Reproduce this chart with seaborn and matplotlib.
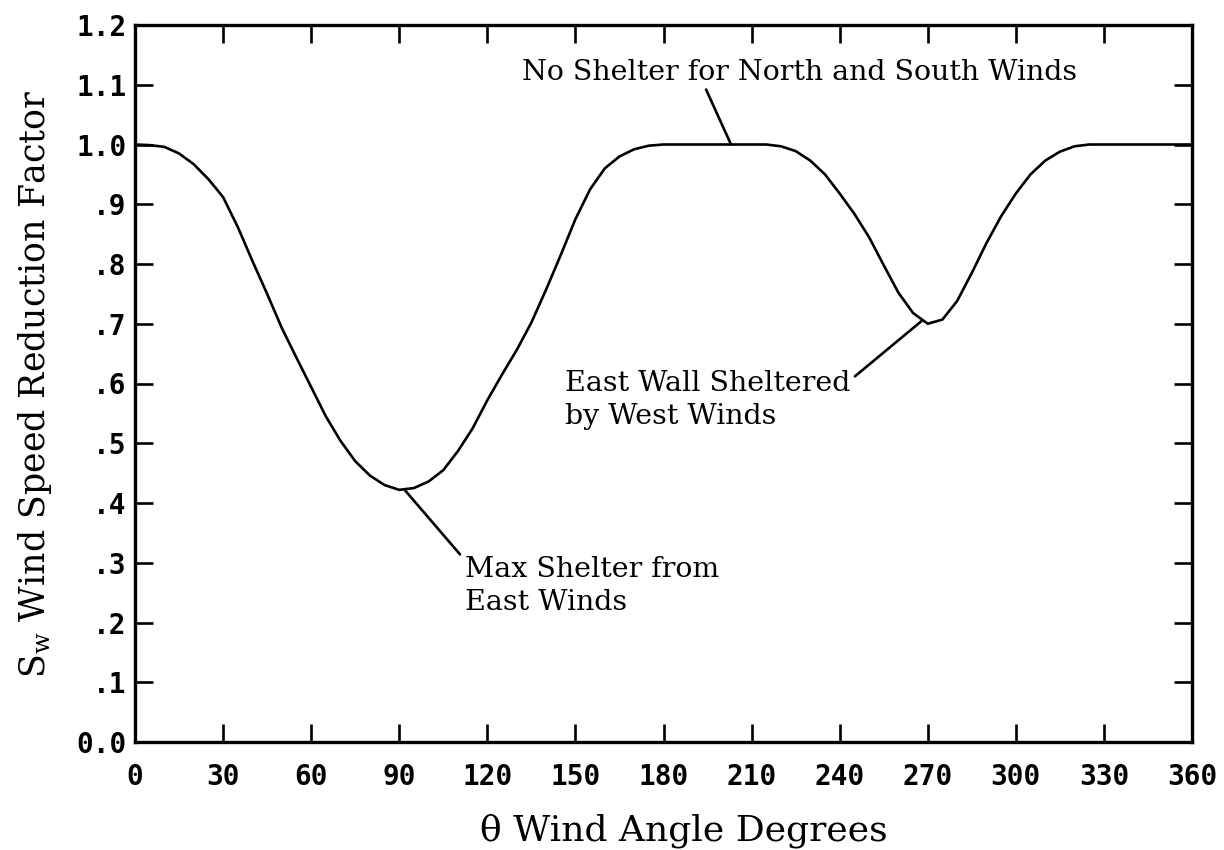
import matplotlib
matplotlib.use("Agg")
import matplotlib.pyplot as plt
import seaborn as sns
import pandas as pd

# ---- data ----
angle = [0, 5, 10, 15, 20, 25, 30, 35, 40, 45, 50, 55, 60, 65, 70, 75, 80, 85, 90,
         95, 100, 105, 110, 115, 120, 125, 130, 135, 140, 145, 150, 155, 160, 165, 170, 175, 180,
         185, 190, 195, 200, 205, 210, 215, 220, 225, 230, 235, 240, 245, 250, 255, 260, 265, 270,
         275, 280, 285, 290, 295, 300, 305, 310, 315, 320, 325, 330, 335, 340, 345, 350, 355, 360]
sw = [1.000, 0.999, 0.996, 0.985, 0.967, 0.942, 0.912, 0.862, 0.805, 0.750, 0.693, 0.643, 0.594,
      0.545, 0.504, 0.470, 0.446, 0.430, 0.422,
      0.425, 0.436, 0.455, 0.487, 0.525, 0.572, 0.615, 0.656, 0.702, 0.757, 0.815, 0.875, 0.925,
      0.960, 0.980, 0.992, 0.998, 1.000,
      1.000, 1.000, 1.000, 1.000, 1.000, 1.000, 1.000, 0.997, 0.989, 0.973, 0.950, 0.918, 0.884,
      0.845, 0.798, 0.752, 0.718, 0.700,
      0.707, 0.738, 0.785, 0.835, 0.880, 0.918, 0.950, 0.973, 0.988, 0.997, 1.000, 1.000, 1.000,
      1.000, 1.000, 1.000, 1.000, 1.000]

x_ticks = [0, 30, 60, 90, 120, 150, 180, 210, 240, 270, 300, 330, 360]
y_ticks = [0.0, 0.1, 0.2, 0.3, 0.4, 0.5, 0.6, 0.7, 0.8, 0.9, 1.0, 1.1, 1.2]
y_tick_labels = ["0.0", ".1", ".2", ".3", ".4", ".5", ".6", ".7", ".8", ".9", "1.0", "1.1", "1.2"]

x_label = "\u03b8 Wind Angle Degrees"
y_label = r"$\mathregular{S_w}$ Wind Speed Reduction Factor"
note_top = "No Shelter for North and South Winds"
note_max = "Max Shelter from\nEast Winds"
note_east = "East Wall Sheltered\nby West Winds"

df = pd.DataFrame({"angle": angle, "sw": sw})

sns.set_theme(style="ticks")
plt.rcParams["font.family"] = ["DejaVu Serif"]
plt.rcParams["mathtext.fontset"] = "dejavuserif"

fig = plt.figure(figsize=(12.24, 8.5), dpi=100)
ax = fig.add_axes([135 / 1224, 1 - 742 / 850, (1192 - 135) / 1224, (742 - 25) / 850])

sns.lineplot(data=df, x="angle", y="sw", color="black", linewidth=1.9, ax=ax)

ax.set_xlim(0, 360)
ax.set_ylim(0, 1.2)
ax.set_xticks(x_ticks)
ax.set_yticks(y_ticks)
ax.set_yticklabels(y_tick_labels)
ax.tick_params(axis="both", direction="in", length=13, width=1.9, color="black",
               labelcolor="black", top=True, right=True, labeltop=False, labelright=False)
ax.tick_params(axis="x", pad=15)
ax.tick_params(axis="y", pad=6)
for lab in ax.get_xticklabels() + ax.get_yticklabels():
    lab.set_fontfamily("DejaVu Sans Mono")
    lab.set_fontweight("bold")
    lab.set_fontsize(20)
    lab.set_color("black")
for sp in ax.spines.values():
    sp.set_visible(True)
    sp.set_linewidth(2.4)
    sp.set_color("black")

ax.set_xlabel(x_label, fontsize=26, labelpad=16, color="black", x=0.519)
ax.set_ylabel(y_label, fontsize=25, labelpad=16, color="black")

line_kw = dict(arrowstyle="-", lw=1.9, color="black", shrinkA=0, shrinkB=0)
ax.annotate("", xy=(203, 1.0), xytext=(194.5, 1.092), arrowprops=line_kw)
ax.text(226.5, 1.121, note_top, ha="center", va="center", fontsize=20.5, color="black")

ax.annotate("", xy=(92, 0.421), xytext=(110.7, 0.314), arrowprops=line_kw)
ax.text(112.5, 0.261, note_max, ha="left", va="center", fontsize=20.5, color="black", linespacing=1.3)

ax.annotate("", xy=(268, 0.705), xytext=(245.2, 0.612), arrowprops=line_kw)
ax.text(146.5, 0.572, note_east, ha="left", va="center", fontsize=20.5, color="black", linespacing=1.3)

fig.savefig("out.png", dpi=100, facecolor="white")
